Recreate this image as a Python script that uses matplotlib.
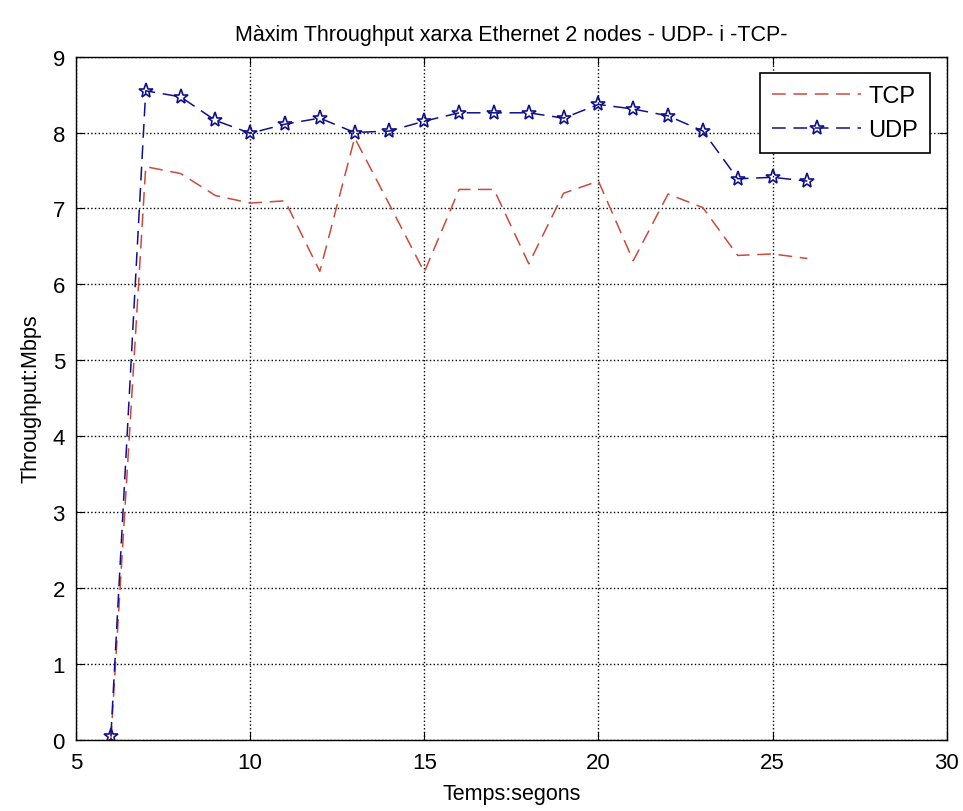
import numpy as np
import matplotlib.pyplot as plt

plt.rcParams['font.family'] = ['Liberation Sans', 'DejaVu Sans']

# Temps (segons)
temps = [6, 7, 8, 9, 10, 11, 12, 13, 14, 15, 16, 17, 18, 19, 20, 21, 22, 23, 24, 25, 26]

# Throughput (Mbps)
tcp = [0.0, 7.55, 7.46, 7.17, 7.07, 7.10, 6.17, 7.93, 7.05, 6.16, 7.25, 7.25,
       6.27, 7.20, 7.36, 6.31, 7.19, 7.01, 6.38, 6.40, 6.34]
udp = [0.05, 8.55, 8.47, 8.16, 7.99, 8.11, 8.19, 8.00, 8.02, 8.15, 8.26, 8.26,
       8.26, 8.19, 8.37, 8.31, 8.22, 8.02, 7.39, 7.41, 7.36]

fig = plt.figure(figsize=(9.63, 8.12), dpi=100)
ax = fig.add_axes([0.079, 0.088, 0.904, 0.841])

ax.plot(temps, tcp, linestyle=(0, (9, 5)), color='#cc4a3c', linewidth=1.1, label='TCP')
ax.plot(temps, udp, linestyle=(0, (9, 5)), color='#10108a', linewidth=1.1,
        marker='*', markersize=11, markerfacecolor='none',
        markeredgecolor='#10108a', markeredgewidth=1.2, label='UDP')

ax.set_xlim(5, 30)
ax.set_ylim(0, 9)
ax.set_xticks([5, 10, 15, 20, 25, 30])
ax.set_yticks(range(0, 10))
ax.tick_params(direction='in', length=6, labelsize=16, top=True, right=True,
               labeltop=False, labelright=False)
ax.tick_params(axis='x', pad=9)
ax.tick_params(axis='y', pad=8)
ax.grid(True, color='black', linestyle=':', linewidth=1.0)
for s in ax.spines.values():
    s.set_linewidth(1.0)

ax.set_title('Màxim Throughput xarxa Ethernet 2 nodes - UDP- i -TCP-', fontsize=15.5, pad=12)
ax.set_xlabel('Temps:segons', fontsize=15.5, labelpad=7)
ax.set_ylabel('Throughput:Mbps', fontsize=15.5, labelpad=8)

leg = ax.legend(loc='upper right', fontsize=17, fancybox=False, edgecolor='black',
                framealpha=1, handlelength=3.8, handletextpad=0.3,
                borderaxespad=0.7, borderpad=0.5, labelspacing=0.5)
leg.get_frame().set_linewidth(1.2)

fig.savefig('out.png', dpi=100)
